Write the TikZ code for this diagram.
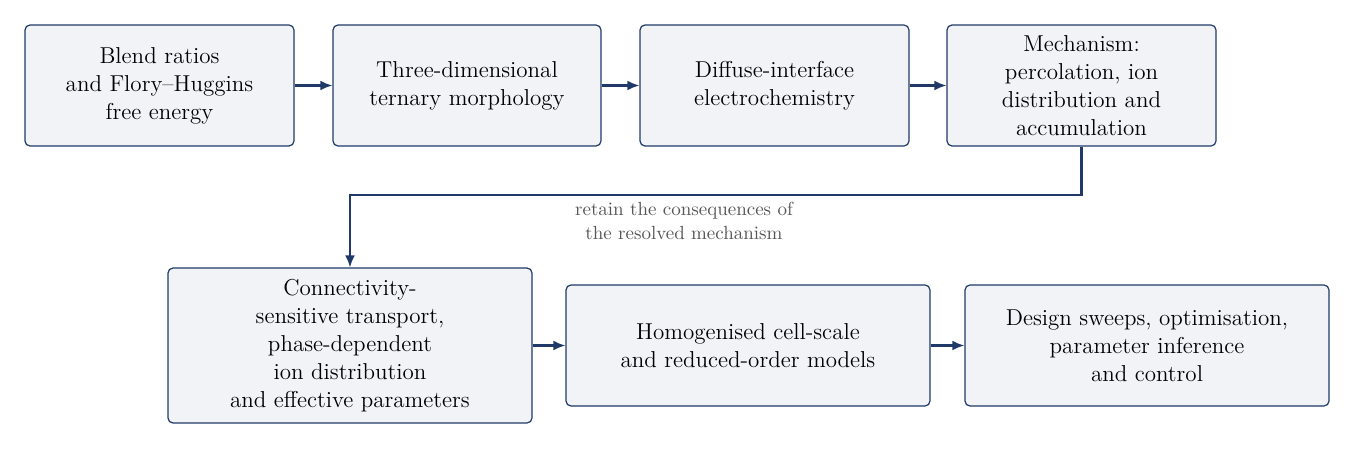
\documentclass[tikz,border=0pt]{standalone}
\usetikzlibrary{arrows.meta}
\definecolor{bfill}{HTML}{F1F3F7}
\definecolor{bdraw}{HTML}{1F3A68}
\definecolor{lbl}{HTML}{555555}
\begin{document}
\begin{tikzpicture}[x=0.5pt,y=-0.5pt,
  box/.style={draw=bdraw,fill=bfill,rounded corners=2.5pt,line width=0.6pt,align=center,
    inner sep=0pt,font=\fontsize{11.5}{14}\selectfont},
  arr/.style={draw=bdraw,line width=1.1pt,-{Latex[length=6pt,width=5pt]}}]
\useasboundingbox (0,0) rectangle (1355,449);
\node[box,minimum width=134.5pt,minimum height=60.5pt] (a) at (159.5,85.5) {Blend ratios\\and Flory--Huggins\\free energy};
\node[box,minimum width=134pt,minimum height=60.5pt] (b) at (467,85.5) {Three-dimensional\\ternary morphology};
\node[box,minimum width=134.5pt,minimum height=60.5pt] (c) at (774.5,85.5) {Diffuse-interface\\electrochemistry};
\node[box,minimum width=134.5pt,minimum height=60.5pt] (d) at (1081.5,85.5) {Mechanism:\\percolation, ion\\distribution and\\accumulation};
\node[box,minimum width=182pt,minimum height=77.5pt] (e) at (350,345.5) {Connectivity-\\sensitive transport,\\phase-dependent\\ion distribution\\and effective parameters};
\node[box,minimum width=182pt,minimum height=60.5pt] (f) at (748,345.5) {Homogenised cell-scale\\and reduced-order models};
\node[box,minimum width=182pt,minimum height=60.5pt] (g) at (1147,345.5) {Design sweeps, optimisation,\\parameter inference\\and control};
\draw[arr] (a) -- (b);
\draw[arr] (b) -- (c);
\draw[arr] (c) -- (d);
\draw[arr] (e) -- (f);
\draw[arr] (f) -- (g);
\draw[arr,rounded corners=0pt] (d.south) |- (350,195) -- (e.north);
\node[text=lbl,align=center,font=\fontsize{9.5}{12}\selectfont] (l) at (684,221) {retain the consequences of\\the resolved mechanism};
\end{tikzpicture}
\end{document}
